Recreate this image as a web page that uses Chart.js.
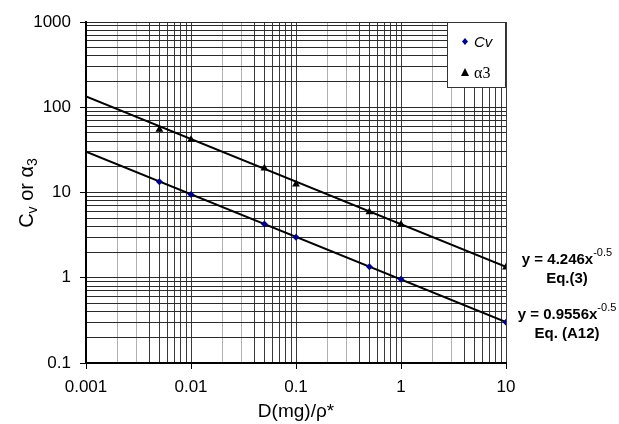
<!DOCTYPE html>
<html lang="en">
<head>
    <meta charset="UTF-8">
    <title>Cv and alpha3 vs D(mg)/rho*</title>
    <style>
        body {
            margin: 0;
            background-color: white;
        }
        #chart {
            display: block;
        }
    </style>
    <script src="https://cdn.jsdelivr.net/npm/chart.js"></script>
</head>
<body>
    <canvas id="chart" width="619" height="424"></canvas>

    <script>
        // measured values
        const dose = [0.005, 0.01, 0.05, 0.1, 0.5, 1, 10];
        const cv = [13.4, 9.45, 4.27, 2.98, 1.35, 0.96, 0.30];
        const alpha3 = [55, 41.5, 19.3, 12.5, 5.9, 4.2, 1.33];

        // power-law fits, end points over the plotted range
        const fitX = [0.001, 10];
        const cvFit = [30.22, 0.3022];
        const alphaFit = [134.27, 1.3427];

        const fitLabels = [
            { coef: 'y = 4.246x', exp: '-0.5', eq: 'Eq.(3)', at: 1.3427 },
            { coef: 'y = 0.9556x', exp: '-0.5', eq: 'Eq. (A12)', at: 0.3022 }
        ];

        const xTicks = [0.001, 0.01, 0.1, 1, 10];
        const yTicks = [0.1, 1, 10, 100, 1000];

        const FONT = "'Liberation Sans', Arial, sans-serif";

        const toPoints = (xs, ys) => xs.map((x, i) => ({ x: x, y: ys[i] }));

        function isMajor(v) {
            const l = Math.log10(v);
            return Math.abs(l - Math.round(l)) < 1e-6;
        }

        // every 1..9 x 10^n value between first and last decade
        function logGrid(decades) {
            const out = [];
            for (let i = 0; i < decades.length - 1; i++) {
                for (let m = 1; m < 10; m++) {
                    out.push({ value: Number((m * decades[i]).toPrecision(3)) });
                }
            }
            out.push({ value: decades[decades.length - 1] });
            return out;
        }

        function mantissa(v) {
            return Math.round(v / Math.pow(10, Math.floor(Math.log10(v) + 1e-9)));
        }

        // legend box, y title and the fit equations
        const extras = {
            id: 'extras',
            afterDraw(chart) {
                const c = chart.ctx;
                const area = chart.chartArea;
                const ys = chart.scales.y;

                // legend
                const lx = area.right - 59, ly = area.top;
                c.save();
                c.fillStyle = '#fff';
                c.fillRect(lx, ly, 58, 65);
                c.strokeStyle = '#333';
                c.lineWidth = 1;
                c.strokeRect(lx + 0.5, ly + 0.5, 58, 65);

                c.fillStyle = '#00008b';
                c.beginPath();
                c.moveTo(lx + 18, ly + 16);
                c.lineTo(lx + 21, ly + 19.5);
                c.lineTo(lx + 18, ly + 23);
                c.lineTo(lx + 15, ly + 19.5);
                c.closePath();
                c.fill();

                c.fillStyle = '#000';
                c.beginPath();
                c.moveTo(lx + 18, ly + 46);
                c.lineTo(lx + 22, ly + 54);
                c.lineTo(lx + 14, ly + 54);
                c.closePath();
                c.fill();

                c.textBaseline = 'alphabetic';
                c.textAlign = 'left';
                c.font = 'italic 15px ' + FONT;
                c.fillText('Cv', lx + 27, ly + 25);
                c.font = "16px 'Liberation Serif', 'Times New Roman', serif";
                c.fillText('\u03b13', lx + 27, ly + 56);
                c.restore();

                // y axis title with subscripts
                c.save();
                c.translate(26, 193);
                c.rotate(-Math.PI / 2);
                c.fillStyle = '#000';
                c.textBaseline = 'alphabetic';
                const parts = [
                    { t: 'C', f: '20px ' + FONT, dy: 0 },
                    { t: 'v', f: '14px ' + FONT, dy: 4 },
                    { t: ' or ', f: '20px ' + FONT, dy: 0 },
                    { t: '\u03b1', f: '20px ' + FONT, dy: 0 },
                    { t: '3', f: '14px ' + FONT, dy: 4 }
                ];
                let total = 0;
                parts.forEach(p => { c.font = p.f; total += c.measureText(p.t).width; });
                let px = -total / 2;
                parts.forEach(p => {
                    c.font = p.f;
                    c.fillText(p.t, px, 7 + p.dy);
                    px += c.measureText(p.t).width;
                });
                c.restore();

                // x axis title
                c.save();
                c.fillStyle = '#000';
                c.font = '19px ' + FONT;
                c.textAlign = 'center';
                c.textBaseline = 'alphabetic';
                c.fillText('D(mg)/\u03c1*', (area.left + area.right) / 2, 417);
                c.restore();

                // fit equations beside the line ends
                c.save();
                c.fillStyle = '#000';
                c.textBaseline = 'alphabetic';
                fitLabels.forEach(lab => {
                    const yb = ys.getPixelForValue(lab.at);
                    const cx = 567;
                    c.font = 'bold 15px ' + FONT;
                    const w1 = c.measureText(lab.coef).width;
                    c.font = '11px ' + FONT;
                    const w2 = c.measureText(lab.exp).width;
                    const x0 = cx - (w1 + w2) / 2;
                    c.font = 'bold 15px ' + FONT;
                    c.textAlign = 'left';
                    c.fillText(lab.coef, x0, yb - 3);
                    c.font = '11px ' + FONT;
                    c.fillText(lab.exp, x0 + w1, yb - 11);
                    c.font = 'bold 15px ' + FONT;
                    c.textAlign = 'center';
                    c.fillText(lab.eq, cx, yb + 16);
                });
                c.restore();
            }
        };

        const ctx = document.getElementById('chart').getContext('2d');
        const chart = new Chart(ctx, {
            type: 'scatter',
            data: {
                datasets: [{
                    label: 'Cv',
                    data: toPoints(dose, cv),
                    pointStyle: 'rectRot',
                    pointRadius: 3.5,
                    backgroundColor: '#00008b',
                    borderColor: '#00008b',
                    borderWidth: 0,
                    order: 0
                }, {
                    label: '\u03b13',
                    data: toPoints(dose, alpha3),
                    pointStyle: 'triangle',
                    pointRadius: 4.5,
                    backgroundColor: '#000',
                    borderColor: '#000',
                    borderWidth: 0,
                    order: 0
                }, {
                    label: 'Cv fit',
                    data: toPoints(fitX, cvFit),
                    showLine: true,
                    pointRadius: 0,
                    borderColor: '#000',
                    borderWidth: 2,
                    order: 1
                }, {
                    label: 'alpha3 fit',
                    data: toPoints(fitX, alphaFit),
                    showLine: true,
                    pointRadius: 0,
                    borderColor: '#000',
                    borderWidth: 2,
                    order: 1
                }]
            },
            options: {
                responsive: false,
                animation: false,
                layout: {
                    padding: { top: 22, right: 113, left: 0, bottom: 0 }
                },
                plugins: {
                    legend: { display: false },
                    tooltip: { enabled: false }
                },
                scales: {
                    x: {
                        type: 'logarithmic',
                        min: xTicks[0],
                        max: xTicks[xTicks.length - 1],
                        afterBuildTicks: scale => { scale.ticks = logGrid(xTicks); },
                        afterFit: scale => { scale.height = 61; },
                        border: { color: '#000', width: 2 },
                        grid: {
                            color: c => {
                                const m = mantissa(c.tick.value);
                                return (m === 2 || m === 3) ? '#b0b0b0' : '#3a3a3a';
                            },
                            lineWidth: 1,
                            tickLength: 6,
                            tickColor: c => isMajor(c.tick.value) ? '#000' : 'rgba(0,0,0,0)'
                        },
                        ticks: {
                            autoSkip: false,
                            maxRotation: 0,
                            padding: 8,
                            color: '#000',
                            font: { family: FONT, size: 17 },
                            callback: v => isMajor(v) ? String(v) : ''
                        }
                    },
                    y: {
                        type: 'logarithmic',
                        min: yTicks[0],
                        max: yTicks[yTicks.length - 1],
                        afterBuildTicks: scale => { scale.ticks = logGrid(yTicks); },
                        afterFit: scale => { scale.width = 86; },
                        border: { color: '#000', width: 2 },
                        grid: {
                            color: '#2a2a2a',
                            lineWidth: 1,
                            tickLength: 6,
                            tickColor: c => isMajor(c.tick.value) ? '#000' : 'rgba(0,0,0,0)'
                        },
                        ticks: {
                            autoSkip: false,
                            padding: 9,
                            color: '#000',
                            font: { family: FONT, size: 17 },
                            callback: v => isMajor(v) ? String(v) : ''
                        }
                    }
                }
            },
            plugins: [extras]
        });
    </script>
</body>
</html>
